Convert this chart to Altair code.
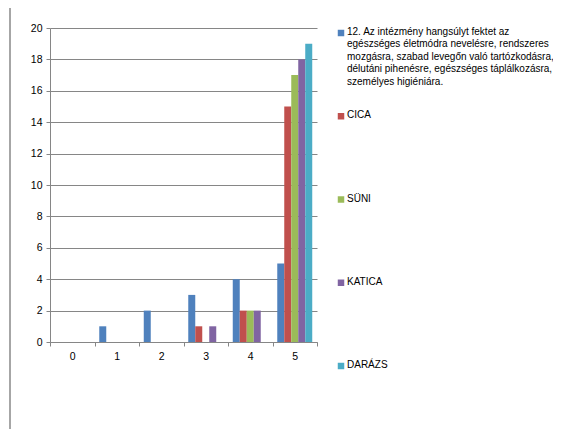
import altair as alt
import pandas as pd

categories = ["0", "1", "2", "3", "4", "5"]
series = [
    "12. Az intézmény hangsúlyt fektet az\negészséges életmódra nevelésre, rendszeres\nmozgásra, szabad levegőn való tartózkodásra,\ndélutáni pihenésre, egészséges táplálkozásra,\nszemélyes higiéniára.",
    "CICA",
    "SÜNI",
    "KATICA",
    "DARÁZS",
]
colors = ["#4F81BD", "#C0504D", "#9BBB59", "#8064A2", "#4BACC6"]
v_main = [0, 1, 2, 3, 4, 5]
v_cica = [0, 0, 0, 1, 2, 15]
v_suni = [0, 0, 0, 0, 2, 17]
v_katica = [0, 0, 0, 1, 2, 18]
v_darazs = [0, 0, 0, 0, 0, 19]

keys = ["s0", "s1", "s2", "s3", "s4"]
rows = []
for k, vals in zip(keys, [v_main, v_cica, v_suni, v_katica, v_darazs]):
    for c, v in zip(categories, vals):
        rows.append({"cat": c, "key": k, "value": v})
df = pd.DataFrame(rows)
leg = pd.DataFrame({"key": keys, "label": series})

W, H = 267, 314
FONT = "Liberation Sans"
color_scale = alt.Scale(domain=keys, range=colors)

bars = alt.Chart(df).mark_bar(size=7).encode(
    x=alt.X("cat:N", sort=categories, title=None,
            scale=alt.Scale(paddingInner=0, paddingOuter=0),
            axis=alt.Axis(labelAngle=0, tickBand="extent", tickSize=4,
                          domainColor="#868686", tickColor="#868686",
                          labelFont=FONT, labelFontSize=10.5, labelColor="#000",
                          labelPadding=5)),
    xOffset=alt.XOffset("key:N", sort=keys,
                        scale=alt.Scale(paddingInner=0, paddingOuter=0.68)),
    y=alt.Y("value:Q", title=None,
            scale=alt.Scale(domain=[0, 20], nice=False),
            axis=alt.Axis(values=list(range(0, 21, 2)), grid=True,
                          gridColor="#868686", domainColor="#868686",
                          tickColor="#868686", tickSize=4,
                          labelFont=FONT, labelFontSize=10.5, labelColor="#000",
                          labelPadding=4)),
    color=alt.Color("key:N", scale=color_scale, legend=None),
)

ly = alt.Y("key:N", sort=keys, axis=None,
           scale=alt.Scale(type="point", range=[5, 338], padding=0))
squares = alt.Chart(leg).mark_square(size=42, opacity=1, filled=True).encode(
    x=alt.value(291), y=ly,
    color=alt.Color("key:N", scale=color_scale, legend=None),
)
texts = alt.Chart(leg).mark_text(
    align="left", baseline="top", dy=-6, lineBreak="\n", lineHeight=12.4,
    font=FONT, fontSize=10, color="#000",
).encode(x=alt.value(297), y=ly, text="label:N")

frame_left = alt.Chart(leg).mark_rule(color="#a6a6a6", strokeWidth=1.5).encode(
    x=alt.value(-40), y=alt.value(-20), y2=alt.value(410))

chart = alt.layer(bars, alt.layer(squares, texts), frame_left).resolve_scale(
    y="independent"
).properties(
    width=W, height=H,
    autosize=alt.AutoSizeParams(type="none"),
    padding={"left": 42, "top": 20, "right": 236, "bottom": 87},
).configure_view(stroke=None)

chart.save("out.html", embed_options={"renderer": "svg", "actions": False})
